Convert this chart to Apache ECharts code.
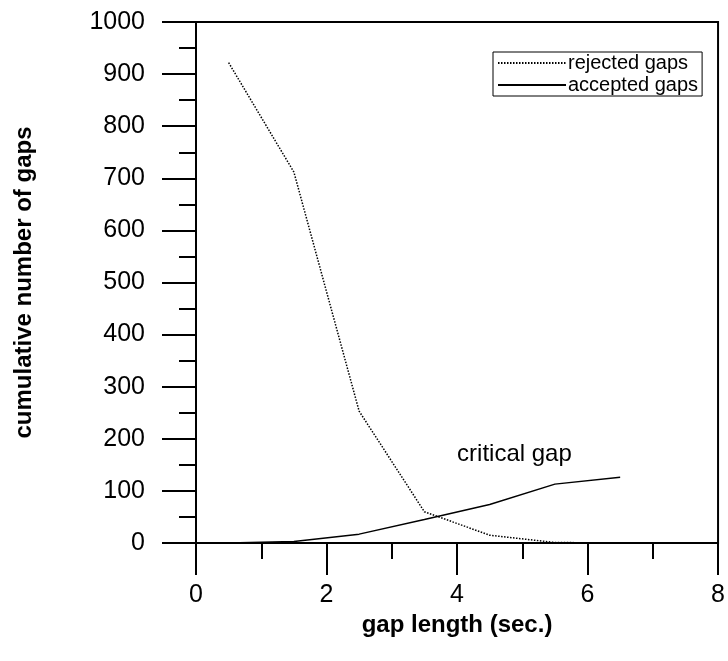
<!DOCTYPE html>
<html>
<head>
<meta charset="utf-8">
<script src="https://cdn.jsdelivr.net/npm/echarts@6/dist/echarts.min.js"></script>
<style>
  html, body { margin: 0; padding: 0; background: #fff; }
  #chart { width: 728px; height: 661px; }
</style>
</head>
<body>
<div id="chart"></div>
<script>
// gap length (sec.) at the middle of each class
const gapLength = [0.5, 1.5, 2.5, 3.5, 4.5, 5.5, 6.5]
const rejectedGaps = [922, 712, 253, 60, 15, 1, 0]
const acceptedGaps = [0, 3, 17, 45, 74, 113, 126]

const font = 'Liberation Sans, Arial, sans-serif'

const chart = echarts.init(document.getElementById('chart'))

chart.setOption({
  animation: false,
  grid: {
    left: 196,
    right: 8,
    top: 22,
    bottom: 118,
    show: true,
    borderColor: '#000',
    borderWidth: 2
  },
  legend: {
    left: 493,
    top: 52,
    orient: 'vertical',
    data: ['rejected gaps', 'accepted gaps'],
    borderColor: '#000',
    borderWidth: 1,
    padding: [1, 4, 1, 4],
    itemGap: 2,
    itemWidth: 68,
    itemHeight: 22,
    itemStyle: { opacity: 0 },
    textStyle: { fontFamily: font, fontSize: 20, color: '#000', padding: [0, 0, 0, -3] }
  },
  xAxis: {
    type: 'value',
    min: 0,
    max: 8,
    interval: 2,
    name: 'gap length (sec.)',
    nameLocation: 'middle',
    nameGap: 70,
    nameTextStyle: { fontFamily: font, fontSize: 24, fontWeight: 'bold', color: '#000' },
    axisLine: { lineStyle: { color: '#000', width: 2 } },
    axisTick: { inside: false, length: 32, lineStyle: { color: '#000', width: 2 } },
    minorTick: { show: true, splitNumber: 2, length: 16, lineStyle: { color: '#000', width: 2 } },
    axisLabel: { margin: 40, fontFamily: font, fontSize: 25, color: '#000' },
    splitLine: { show: false }
  },
  yAxis: {
    type: 'value',
    min: 0,
    max: 1000,
    interval: 100,
    name: 'cumulative number of gaps',
    nameLocation: 'middle',
    nameGap: 160,
    nameTextStyle: { fontFamily: font, fontSize: 24, fontWeight: 'bold', color: '#000' },
    axisLine: { show: true, lineStyle: { color: '#000', width: 2 } },
    axisTick: { show: true, inside: false, length: 34, lineStyle: { color: '#000', width: 2 } },
    minorTick: { show: true, splitNumber: 2, length: 17, lineStyle: { color: '#000', width: 2 } },
    axisLabel: { margin: 51, fontFamily: font, fontSize: 25, color: '#000', formatter: v => String(v) },
    splitLine: { show: false }
  },
  series: [
    {
      name: 'rejected gaps',
      type: 'line',
      data: gapLength.map((x, i) => [x, rejectedGaps[i]]),
      symbol: 'none',
      color: '#000',
      lineStyle: { color: '#000', width: 1.5, type: [1.5, 1.5] }
    },
    {
      name: 'accepted gaps',
      type: 'line',
      data: gapLength.map((x, i) => [x, acceptedGaps[i]]),
      symbol: 'none',
      color: '#000',
      lineStyle: { color: '#000', width: 1.5 },
      markPoint: {
        symbol: 'circle',
        symbolSize: 0,
        data: [{ coord: [4.88, 170] }],
        label: {
          show: true,
          position: 'inside',
          formatter: 'critical gap',
          fontFamily: font,
          fontSize: 24,
          color: '#000'
        }
      }
    }
  ]
})
</script>
</body>
</html>
